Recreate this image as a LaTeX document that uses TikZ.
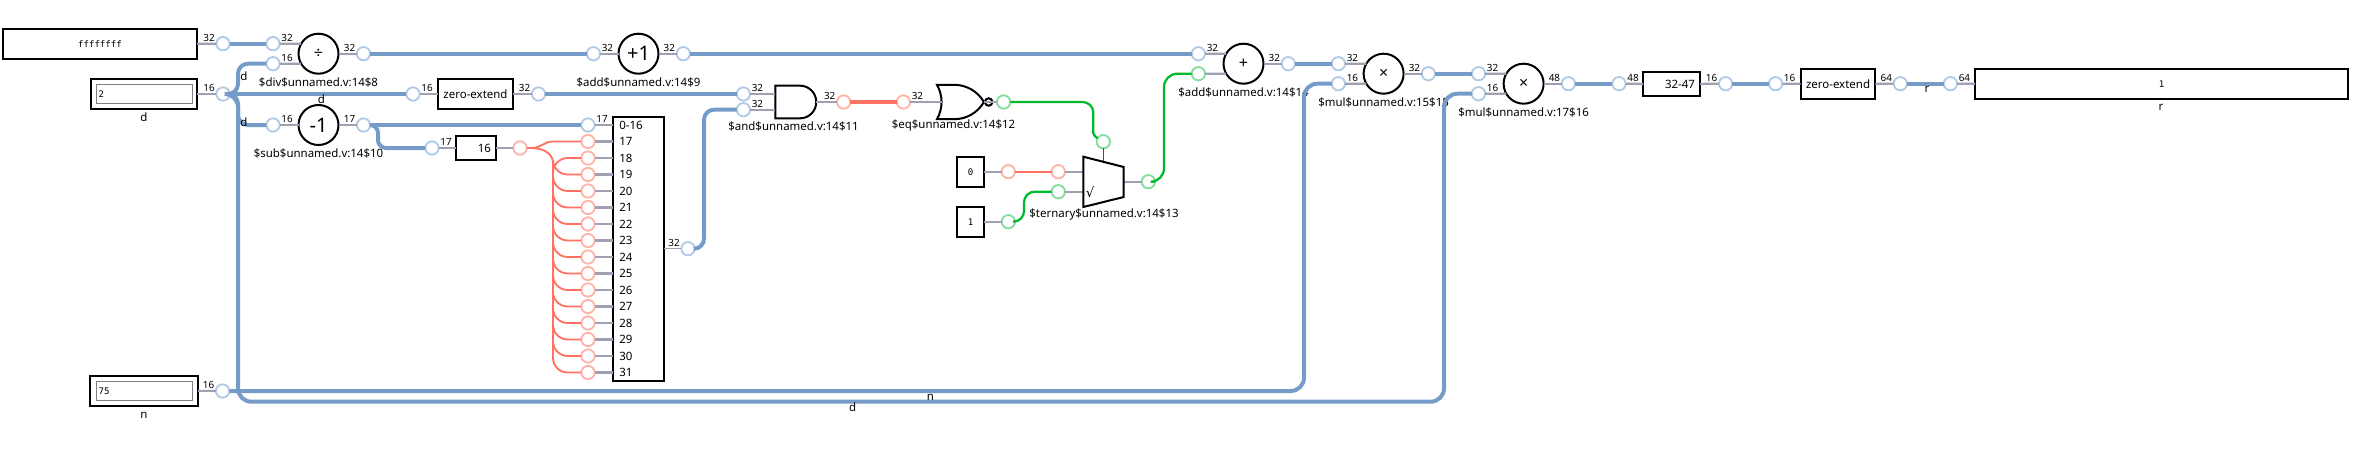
\documentclass[tikz,border=0pt]{standalone}
\usepackage{fontspec}
\setmainfont{Noto Sans}
\newfontfamily\pinmono{DejaVu Sans Mono}
\newfontfamily\symfont{DejaVu Sans}
\usetikzlibrary{shapes.gates.logic.US}
\definecolor{wireblue}{HTML}{759CC9}
\definecolor{wirered}{HTML}{FF7160}
\definecolor{wiregreen}{HTML}{00BA2E}
\definecolor{ptblue}{HTML}{B2CAE5}
\definecolor{ptred}{HTML}{FFB4AA}
\definecolor{ptgreen}{HTML}{85DE9E}
\definecolor{stubgray}{HTML}{A0A0B2}
\tikzset{
  pt/.style={circle,fill=white,line width=1.4pt,minimum size=10pt,inner sep=0pt,outer sep=0pt},
  ptb/.style={pt,draw=ptblue},
  ptr/.style={pt,draw=ptred},
  ptg/.style={pt,draw=ptgreen},
  bitw/.style={inner sep=0pt,font=\fontsize{7.4}{8}\selectfont},
  bitin/.style={label={[bitw,xshift=10.5pt,yshift=4.5pt]center:#1}},
  bitout/.style={label={[bitw,xshift=-10.5pt,yshift=4.5pt]center:#1}},
  blk/.style={draw=black,fill=white,line width=1.5pt,inner sep=0pt,outer sep=0pt,
              font=\fontsize{8.6}{10}\selectfont},
  constbox/.style={blk,font=\pinmono\fontsize{6.8}{8}\selectfont},
  field/.style={draw=gray,line width=0.75pt,inner xsep=2pt,inner ysep=0pt,
                minimum height=14.5pt,align=left,
                font=\pinmono\fontsize{6.8}{8}\selectfont},
  slicebox/.style={blk,align=right,inner xsep=3.75pt,minimum height=18.5pt},
  opc/.style={circle,draw=black,fill=white,line width=1.5pt,minimum size=30pt,
              inner sep=0pt,outer sep=0pt,font=\fontsize{12}{14}\selectfont},
  opbig/.style={opc,font=\fontsize{15}{16}\selectfont},
  gatesym/.style={draw,fill=white,line width=1.5pt,minimum height=24.5pt,inner sep=0pt,
                  outer sep=0pt,logic gate inputs=nn},
  cellname/.style={inner sep=0pt,font=\fontsize{8.6}{10}\selectfont},
  netname/.style={inner sep=0pt,font=\fontsize{8.6}{10}\selectfont},
  stub/.style={draw=stubgray,line width=1.6pt},
  busb/.style={draw=wireblue,line width=3pt},
  busr/.style={draw=wirered,line width=3pt},
  thinr/.style={draw=wirered,line width=1.4pt},
  thing/.style={draw=wiregreen,line width=1.7pt,rounded corners=8pt}
}
\begin{document}
\begin{tikzpicture}[x=0.75pt,y=-0.75pt]
    \path[use as bounding box] (0,0) rectangle (2377,464);

    % inputs and constants
    \node[constbox,minimum width=145.5pt,minimum height=22.5pt] (ones) at (100,44) {ffffffff};
    \node[blk,minimum width=79.5pt,minimum height=22.5pt] (din) at (144,94) {};
    \node[field,text width=68pt] (dfield) at (144,94) {2};
    \node[netname] (dname) at (144,117) {d};
    \node[blk,minimum width=81pt,minimum height=22.5pt] (nin) at (144,390.5) {};
    \node[field,text width=68pt] (nfield) at (144,391) {75};
    \node[netname] (nname) at (144,415) {n};
    \node[constbox,minimum width=20pt,minimum height=22.5pt] (zero) at (970.5,171.7) {0};
    \node[constbox,minimum width=20pt,minimum height=22.5pt] (one) at (970.5,221.7) {1};

    % operators
    \node[opc] (div) at (318.5,53.7) {÷};
    \node[opbig] (sub) at (318.5,125) {-1};
    \node[opbig] (inc) at (638.5,53.7) {+1};
    \node[opc] (add) at (1243.5,63.7) {+};
    \node[opc] (mula) at (1383.6,73.7) {×};
    \node[opc] (mulb) at (1523.6,83.7) {×};
    \node[cellname] (divname) at (318.5,82.5) {\$div\$unnamed.v:14\$8};
    \node[cellname] (subname) at (318.5,153.5) {\$sub\$unnamed.v:14\$10};
    \node[cellname] (incname) at (638.5,82.5) {\$add\$unnamed.v:14\$9};
    \node[cellname] (addname) at (1243.5,92.5) {\$add\$unnamed.v:14\$14};
    \node[cellname] (mulaname) at (1383.6,102.5) {\$mul\$unnamed.v:15\$15};
    \node[cellname] (mulbname) at (1523.6,112.5) {\$mul\$unnamed.v:17\$16};

    % gates
    \node[and gate US,gatesym,minimum width=24.5pt] (andg) at (794.5,102) {};
    \node[nor gate US,gatesym,minimum width=27pt,logic gate inverted radius=2.8pt] (norg) at (957,102) {};
    \coordinate (nori) at (942,102);
    \node[cellname] (andname) at (793.5,126) {\$and\$unnamed.v:14\$11};
    \node[cellname] (eqname) at (953.5,126) {\$eq\$unnamed.v:14\$12};

    % mux
    \coordinate (muxa) at (1083.3,156.7);
    \coordinate (muxb) at (1123.7,167);
    \coordinate (muxc) at (1123.7,197);
    \coordinate (muxd) at (1083.3,207);
    \coordinate (muxs) at (1103.3,161.5);
    \coordinate (muxo) at (1123.7,181.7);
    \node[cellname] (muxname) at (1104,215) {\$ternary\$unnamed.v:14\$13};

    % slices and extenders
    \node[blk,minimum width=56pt,minimum height=22.5pt] (zexa) at (475.5,94) {zero-extend};
    \node[slicebox,text width=22.5pt] (lowbit) at (476,148) {16};
    \node[blk,minimum width=38pt,minimum height=198pt] (bits) at (638.5,249) {};
    \node[slicebox,text width=35pt] (slice) at (1671.7,84) {32-47};
    \node[blk,minimum width=56pt,minimum height=22.5pt] (zexb) at (1838,84) {zero-extend};
    \node[constbox,minimum width=279.5pt,minimum height=22.5pt] (rout) at (2161.5,84) {1};
    \node[netname] (rname) at (2161,107) {r};

    % ports
    \node[ptb,bitout=32] (onesp) at (223,43.7) {};
    \node[ptb,bitin=32] (diva) at (273,43.7) {};
    \node[ptb,bitin=16] (divb) at (273,63.7) {};
    \node[ptb,bitout=32] (divo) at (363.5,53.7) {};
    \node[ptb,bitin=32] (inca) at (593.4,53.7) {};
    \node[ptb,bitout=32] (inco) at (683.3,53.7) {};
    \node[ptb,bitin=32] (adda) at (1198.4,53.7) {};
    \node[ptg] (addb) at (1198.4,73.7) {};
    \node[ptb,bitout=32] (addo) at (1288.3,63.7) {};
    \node[ptb,bitin=32] (mulaa) at (1338.4,63.7) {};
    \node[ptb,bitin=16] (mulab) at (1338.4,83.7) {};
    \node[ptb,bitout=32] (mulao) at (1428.4,73.7) {};
    \node[ptb,bitin=32] (mulba) at (1478.5,73.7) {};
    \node[ptb,bitin=16] (mulbb) at (1478.5,93.7) {};
    \node[ptb,bitout=48] (mulbo) at (1568.4,83.7) {};
    \node[ptb,bitin=48] (slicei) at (1619,83.7) {};
    \node[ptb,bitout=16] (sliceo) at (1725.6,83.7) {};
    \node[ptb,bitin=16] (zexbi) at (1775.6,83.7) {};
    \node[ptb,bitout=64] (zexbo) at (1900.3,83.7) {};
    \node[ptb,bitin=64] (routi) at (1950.4,83.7) {};
    \node[ptb,bitout=16] (dp) at (223,94) {};
    \node[ptb,bitin=16] (zexai) at (413,94) {};
    \node[ptb,bitout=32] (zexao) at (538.5,94) {};
    \node[ptb,bitin=32] (anda) at (743.4,94) {};
    \node[ptb,bitin=32] (andb) at (743.4,109.7) {};
    \node[ptr,bitout=32] (ando) at (843.7,102) {};
    \node[ptr,bitin=32] (eqi) at (903.4,102) {};
    \node[ptg] (eqo) at (1003.6,102) {};
    \node[ptg] (muxsel) at (1103.3,141.7) {};
    \node[ptr] (zerop) at (1008.3,171.7) {};
    \node[ptr] (muxa0) at (1058.3,171.7) {};
    \node[ptg] (onep) at (1008.3,221.7) {};
    \node[ptg] (muxa1) at (1058.3,191.7) {};
    \node[ptg] (muxout) at (1148.3,181.7) {};
    \node[ptb,bitin=16] (subi) at (273,125) {};
    \node[ptb,bitout=17] (subo) at (363.5,125) {};
    \node[ptb,bitin=17] (lowi) at (432,148) {};
    \node[ptr] (lowo) at (520,148) {};
    \node[ptb,bitin=17] (bits0) at (588,125) {};
    \node[ptb,bitout=32] (bitso) at (688,248.7) {};
    \node[ptb,bitout=16] (np) at (222.6,391) {};
    \coordinate (dbus) at (238,250);
    \coordinate (lowbend) at (378,136);
    \coordinate (redfork) at (532,148);
    \coordinate (redbus) at (553,163);
    \coordinate (andbend) at (704,180);
    \coordinate (selbend) at (1093.3,122);
    \coordinate (onebend) at (1024,206);
    \coordinate (addbend) at (1164,120);
    \coordinate (ncorner) at (1304,391);
    \coordinate (dcorner) at (1444,401.7);

    % stubs
    \draw[stub] (ones) -- (onesp);
    \draw[stub] (diva) -- (div.150);
    \draw[stub] (divb) -- (div.210);
    \draw[stub] (div) -- (divo);
    \draw[stub] (inca) -- (inc);
    \draw[stub] (inc) -- (inco);
    \draw[stub] (adda) -- (add.150);
    \draw[stub] (addb) -- (add.210);
    \draw[stub] (add) -- (addo);
    \draw[stub] (mulaa) -- (mula.150);
    \draw[stub] (mulab) -- (mula.210);
    \draw[stub] (mula) -- (mulao);
    \draw[stub] (mulba) -- (mulb.150);
    \draw[stub] (mulbb) -- (mulb.210);
    \draw[stub] (mulb) -- (mulbo);
    \draw[stub] (slicei) -- (slice);
    \draw[stub] (slice) -- (sliceo);
    \draw[stub] (zexbi) -- (zexb);
    \draw[stub] (zexb) -- (zexbo);
    \draw[stub] (routi) -- (rout);
    \draw[stub] (din) -- (dp);
    \draw[stub] (zexai) -- (zexa);
    \draw[stub] (zexa) -- (zexao);
    \draw[stub] (anda) -- (anda -| andg.west);
    \draw[stub] (andb) -- (andb -| andg.west);
    \draw[stub] (andg.east) -- (ando);
    \draw[stub] (eqi) -- (nori);
    \draw[stub] (norg.east) -- (eqo);
    \draw[stub] (one) -- (onep);
    \draw[stub] (zero) -- (zerop);
    \draw[stub] (muxa0) -- (muxa0 -| muxa);
    \draw[stub] (muxa1) -- (muxa1 -| muxa);
    \draw[stub] (muxo) -- (muxout);
    \draw[stub,line width=0.8pt,draw=black!70] (muxsel) -- (muxs);
    \draw[stub] (subi) -- (sub);
    \draw[stub] (sub) -- (subo);
    \draw[stub] (lowi) -- (lowbit);
    \draw[stub] (lowbit) -- (lowo);
    \draw[stub] (bits0) -- (bits0 -| bits.west);
    \draw[stub,line width=1pt] (bits.east |- bitso) -- (bitso);
    \draw[stub] (nin) -- (np);

    % nets
    \draw[busb] (onesp) -- (diva);
    \draw[busb] (divo) -- (inca);
    \draw[busb] (inco) -- (adda);
    \draw[busb] (addo) -- (mulaa);
    \draw[busb] (mulao) -- (mulba);
    \draw[busb] (mulbo) -- (slicei);
    \draw[busb] (sliceo) -- (zexbi);
    \draw[busb] (zexbo) -- (routi);
    \draw[busb] (dp) -- (zexai);
    \draw[busb] (zexao) -- (anda);
    \draw[busb] (subo) -- (bits0);
    \draw[busb,rounded corners=7.5pt] (dp) -- (dp -| dbus) |- (divb);
    \draw[busb,rounded corners=7.5pt] (dp) -- (dp -| dbus) |- (subi);
    \draw[busb,rounded corners=6pt] (subo) -- (subo -| lowbend) |- (lowi);
    \draw[busb,rounded corners=7.5pt] (bitso) -- (bitso -| andbend) |- (andb);
    \draw[busb,rounded corners=10pt] (np) -- (ncorner) |- (mulab);
    \draw[busb,rounded corners=10pt] (dp) -- (dp -| dbus) |- (dcorner) |- (mulbb);
    \draw[busr] (ando) -- (eqi);
    \draw[thinr] (zerop) -- (muxa0);
    \draw[thing] (eqo) -| (selbend) to[out=-90,in=150] (muxsel);
    \draw[thing] (onep) -- (onep -| onebend) |- (muxa1);
    \draw[thing,rounded corners=10pt] (muxout) -- (muxout -| addbend) |- (addb);

    % split of the low bit
    \node[cellname,anchor=west] (l0) at (619,125) {0-16};
    \foreach \b [evaluate=\b as \y using 141.5+16.5*(\b-17)] in {17,...,31} {
      \node[ptr] (sp\b) at (588,\y) {};
      \node[cellname,anchor=west] (l\b) at (619,\y) {\b};
      \draw[stub] (sp\b) -- (sp\b -| bits.west);
    }
    \draw[thinr] (lowo) -- (redfork) to[out=0,in=90] (redbus);
    \draw[thinr] (redfork) to[out=0,in=180] (redbus |- sp17) -- (sp17);
    \foreach \b in {18,...,31} {
      \draw[thinr,rounded corners=11pt] (redbus) |- (sp\b);
    }

    \draw[black,fill=white,line width=1.5pt] (muxa) -- (muxb) -- (muxc) -- (muxd) -- cycle;
    \node[cellname] (muxsign) at (1090,192) {\symfont\fontsize{10}{10}\selectfont √};

    % names on the wires
    \node[netname] (dla) at (244,76) {d};
    \node[netname] (dlb) at (321.5,99) {d};
    \node[netname] (dlc) at (244,122) {d};
    \node[netname] (dld) at (852.7,407) {d};
    \node[netname] (nla) at (930.5,397) {n};
    \node[netname] (rla) at (1927,89) {r};
  \end{tikzpicture}
\end{document}
